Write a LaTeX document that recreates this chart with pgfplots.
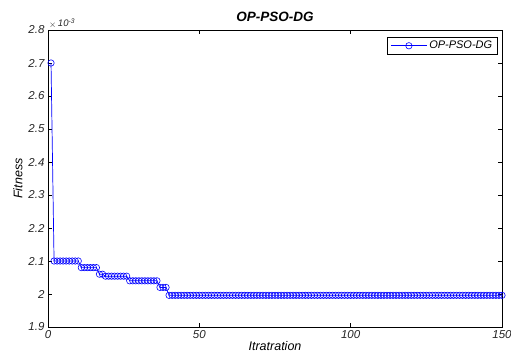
\documentclass[border=0pt]{standalone}
\usepackage{pgfplots}
\pgfplotsset{compat=1.18}
\usepackage{fontspec}
\setmainfont{Liberation Sans}
\definecolor{mblue}{RGB}{0,0,255}
\begin{document}
\begin{tikzpicture}[x=1pt,y=1pt]
\useasboundingbox (0,0) rectangle (511,362);
\begin{axis}[
  at={(48pt,35pt)}, anchor=south west,
  width=454pt, height=297pt, scale only axis,
  xmin=0, xmax=150, ymin=0.0019, ymax=0.0028,
  xtick={0,50,100,150},
  ytick={0.0019,0.002,0.0021,0.0022,0.0023,0.0024,0.0025,0.0026,0.0027,0.0028},
  scaled y ticks=base 10:3,
  ytick scale label code/.code={\itshape\fontsize{9.5}{10}\selectfont\raisebox{-1pt}{$\times$}\,10\textsuperscript{-3}},
  every y tick scale label/.style={at={(0,1)},anchor=south west,inner sep=1pt},
  /pgf/number format/assume math mode=true,
  tick label style={font=\itshape\fontsize{11.5}{13}\selectfont, text=black!85},
  tick align=inside, major tick length=4pt,
  axis line style={black, line width=0.5pt},
  tick style={black, line width=0.5pt},
  title={\bfseries\itshape\fontsize{13.5}{15}\selectfont OP-PSO-DG},
  title style={yshift=-1pt},
  xlabel={\itshape\fontsize{12.5}{14}\selectfont Itratration},
  ylabel={\itshape\fontsize{12.5}{14}\selectfont Fitness},
  xlabel style={yshift=4pt},
  ylabel style={yshift=-1pt},
  legend style={at={(0.99,0.975)},anchor=north east,font=\itshape\fontsize{11}{12}\selectfont,draw=black,line width=0.5pt,inner xsep=3pt,inner ysep=1.5pt,cells={anchor=west}},
  legend image code/.code={\draw[#1,draw=mblue,line width=0.7pt,mark repeat=2,mark phase=2] plot coordinates {(0pt,0pt) (18pt,0pt) (36pt,0pt)};},
]
\addplot[draw=mblue, mblue, line width=0.7pt, mark=o, mark size=3.2pt, mark options={draw=mblue, solid, line width=0.6pt}] coordinates {
(1,0.0027)
(2,0.0021)(3,0.0021)(4,0.0021)(5,0.0021)(6,0.0021)(7,0.0021)(8,0.0021)(9,0.0021)(10,0.0021)
(11,0.00208)(12,0.00208)(13,0.00208)(14,0.00208)(15,0.00208)(16,0.00208)
(17,0.00206)(18,0.00206)
(19,0.002054)(20,0.002054)(21,0.002054)(22,0.002054)(23,0.002054)(24,0.002054)(25,0.002054)(26,0.002054)
(27,0.00204)(28,0.00204)(29,0.00204)(30,0.00204)(31,0.00204)(32,0.00204)(33,0.00204)(34,0.00204)(35,0.00204)(36,0.00204)
(37,0.00202)(38,0.00202)(39,0.00202)
(40,0.001996)(41,0.001996)(42,0.001996)(43,0.001996)(44,0.001996)(45,0.001996)(46,0.001996)(47,0.001996)(48,0.001996)(49,0.001996)
(50,0.001996)(51,0.001996)(52,0.001996)(53,0.001996)(54,0.001996)(55,0.001996)(56,0.001996)(57,0.001996)(58,0.001996)(59,0.001996)
(60,0.001996)(61,0.001996)(62,0.001996)(63,0.001996)(64,0.001996)(65,0.001996)(66,0.001996)(67,0.001996)(68,0.001996)(69,0.001996)
(70,0.001996)(71,0.001996)(72,0.001996)(73,0.001996)(74,0.001996)(75,0.001996)(76,0.001996)(77,0.001996)(78,0.001996)(79,0.001996)
(80,0.001996)(81,0.001996)(82,0.001996)(83,0.001996)(84,0.001996)(85,0.001996)(86,0.001996)(87,0.001996)(88,0.001996)(89,0.001996)
(90,0.001996)(91,0.001996)(92,0.001996)(93,0.001996)(94,0.001996)(95,0.001996)(96,0.001996)(97,0.001996)(98,0.001996)(99,0.001996)
(100,0.001996)(101,0.001996)(102,0.001996)(103,0.001996)(104,0.001996)(105,0.001996)(106,0.001996)(107,0.001996)(108,0.001996)(109,0.001996)
(110,0.001996)(111,0.001996)(112,0.001996)(113,0.001996)(114,0.001996)(115,0.001996)(116,0.001996)(117,0.001996)(118,0.001996)(119,0.001996)
(120,0.001996)(121,0.001996)(122,0.001996)(123,0.001996)(124,0.001996)(125,0.001996)(126,0.001996)(127,0.001996)(128,0.001996)(129,0.001996)
(130,0.001996)(131,0.001996)(132,0.001996)(133,0.001996)(134,0.001996)(135,0.001996)(136,0.001996)(137,0.001996)(138,0.001996)(139,0.001996)
(140,0.001996)(141,0.001996)(142,0.001996)(143,0.001996)(144,0.001996)(145,0.001996)(146,0.001996)(147,0.001996)(148,0.001996)(149,0.001996)
(150,0.001996)
};
\addlegendentry{OP-PSO-DG}
\end{axis}
\end{tikzpicture}
\end{document}
